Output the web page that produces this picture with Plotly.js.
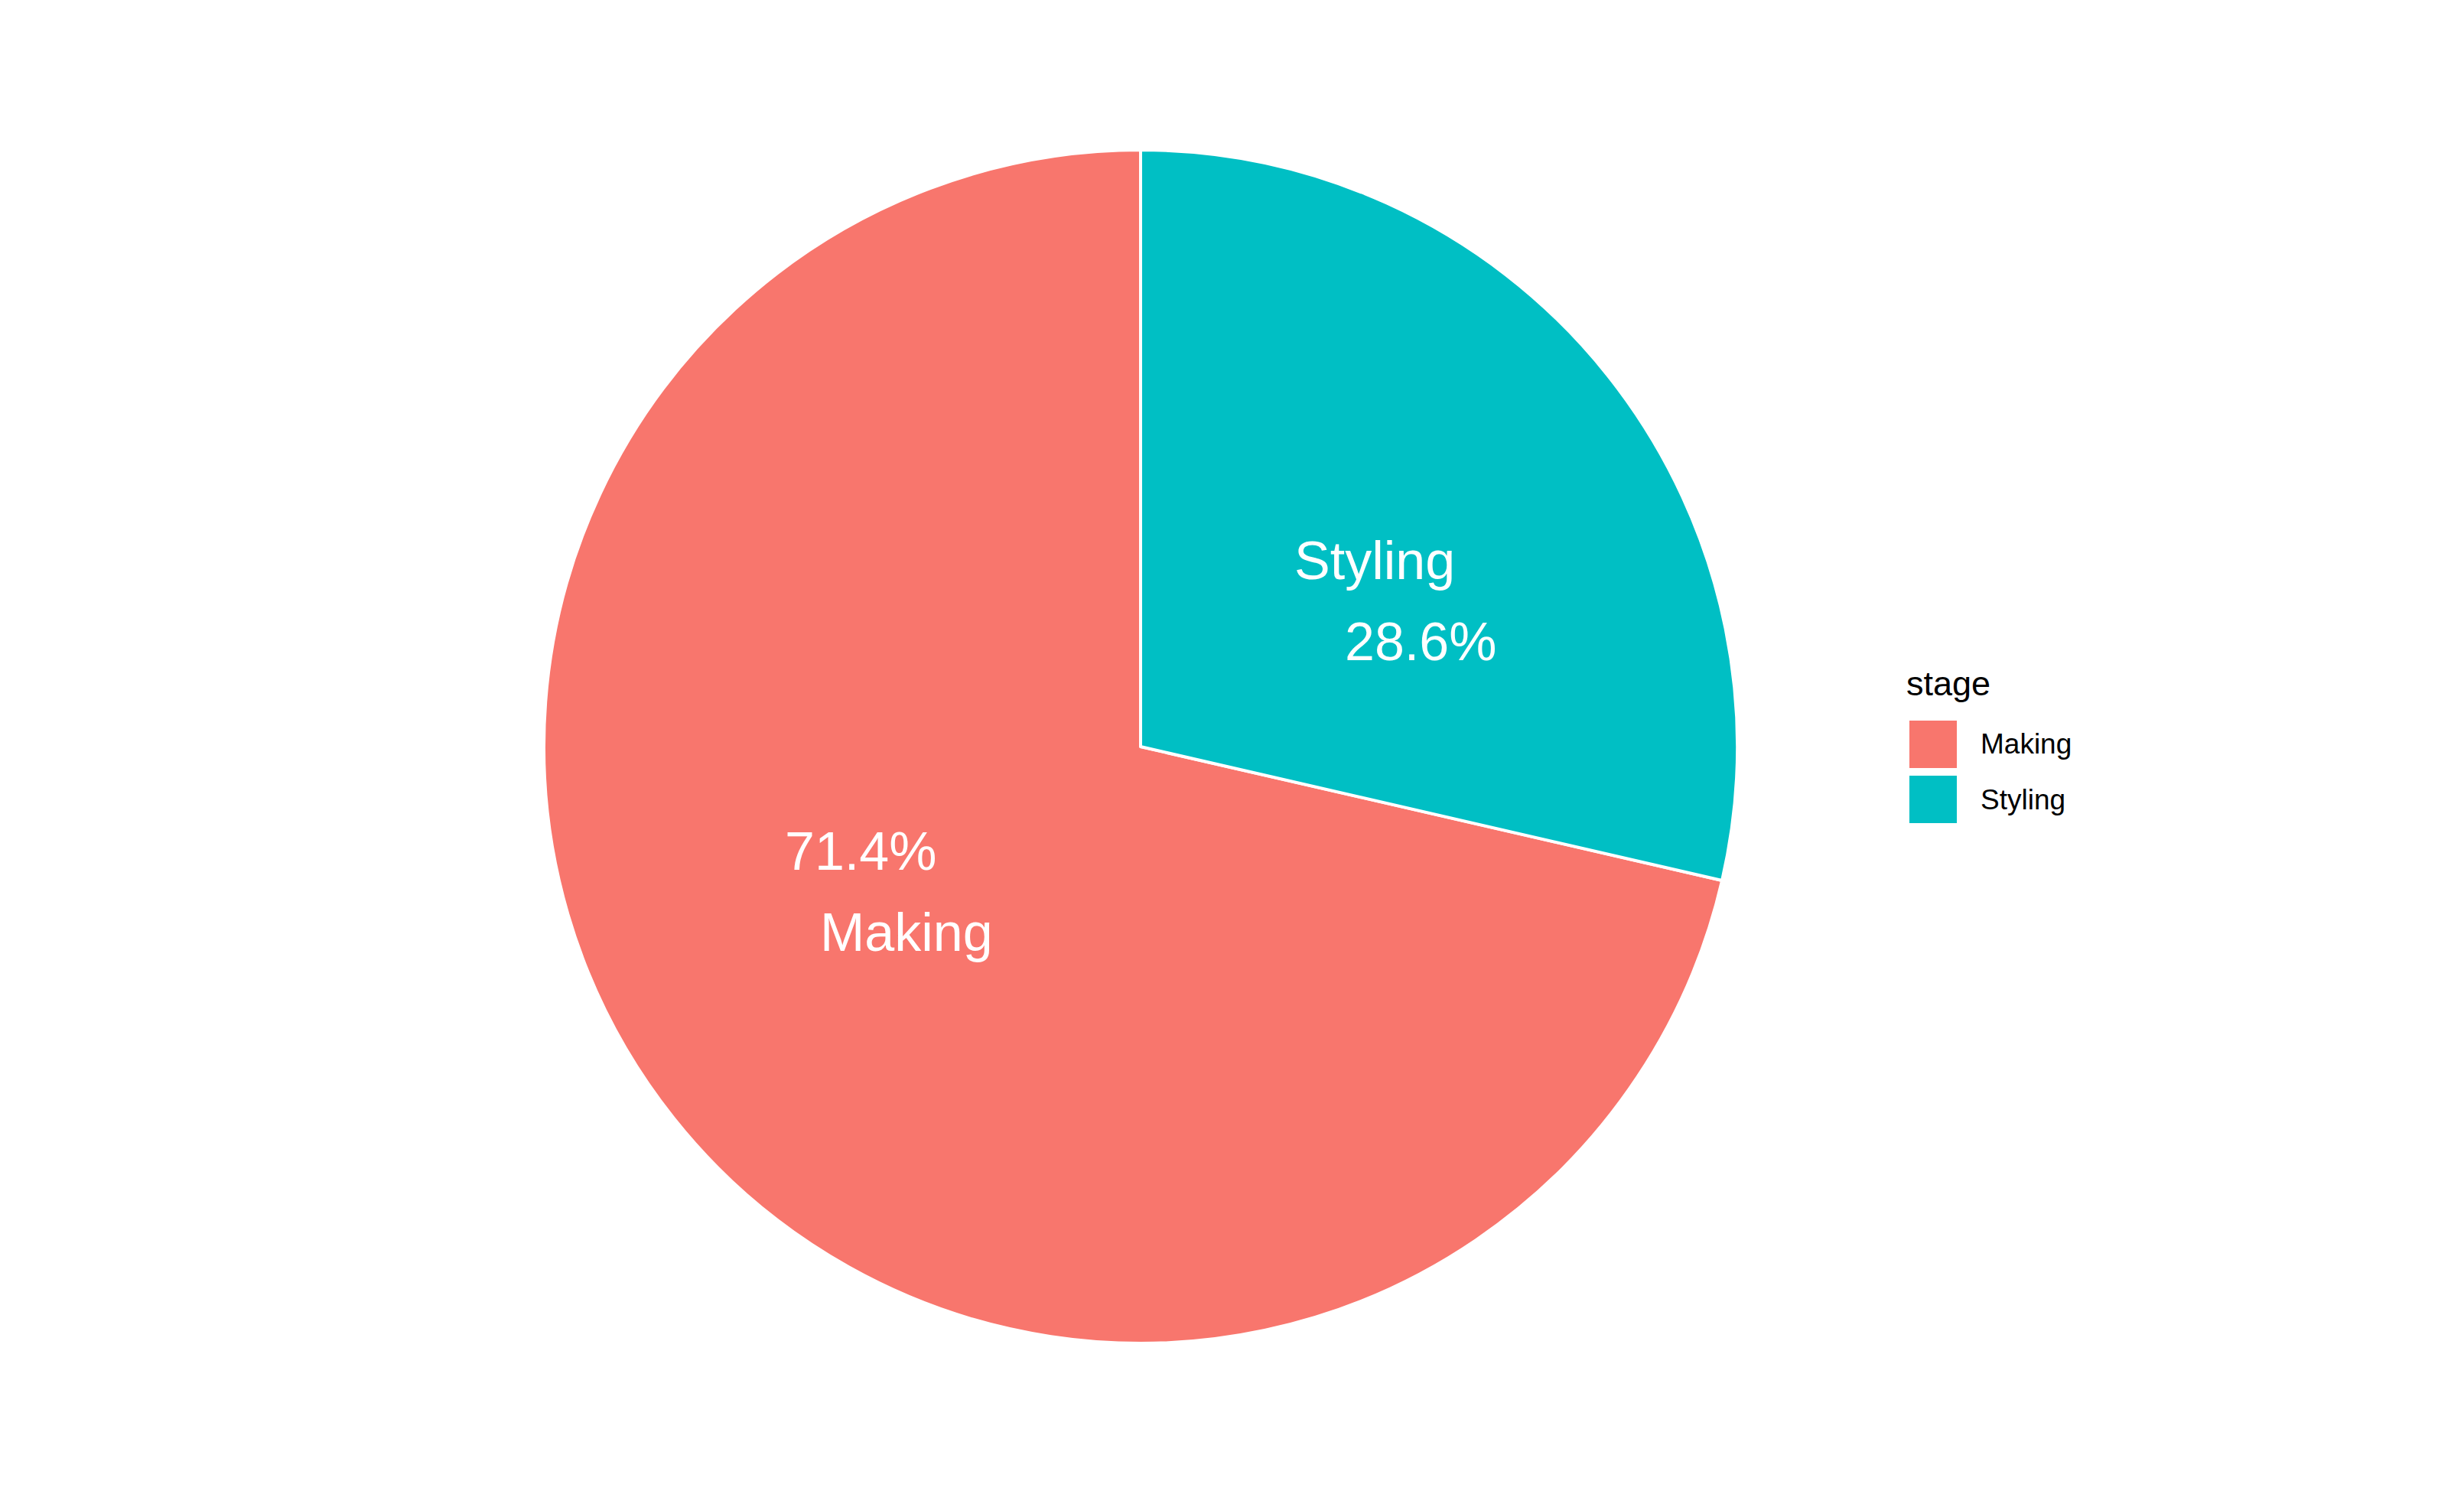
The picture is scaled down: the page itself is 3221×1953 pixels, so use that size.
<!DOCTYPE html>
<html>
<head>
<meta charset="utf-8">
<script src="https://cdn.plot.ly/plotly-3.0.1.min.js"></script>
<style>html,body{margin:0;padding:0;background:#fff;}#chart{width:3221px;height:1953px;}</style>
</head>
<body>
<div id="chart"></div>
<script>
// ---- data ----
const stages = ["Making", "Styling"];
const shares = [71.4, 28.6];
const colors = ["#F8766D", "#00BFC4"];
const legendTitle = "stage";
const labelFirst = [false, true]; // which line is drawn on top for each slice

// ---- layout constants ----
const W = 3221, H = 1953;
const cx = 1491, cy = 976, R = 780;
const font = "Liberation Sans, Arial, sans-serif";

const total = shares.reduce((a, b) => a + b, 0);
const annotations = [];
// slices run (visually) counterclockwise from 12 o'clock; angle measured clockwise from top
let start = 360;
for (let i = 0; i < stages.length; i++) {
  const sweep = shares[i] / total * 360;
  const mid = start - sweep / 2;
  start -= sweep;
  const th = (mid + 9) * Math.PI / 180;
  const px = cx + 0.495 * R * Math.sin(th);
  const py = cy - 0.495 * R * Math.cos(th);
  const pct = (shares[i] / total * 100).toFixed(1) + "%";
  const top = labelFirst[i] ? stages[i] : pct;
  const bottom = labelFirst[i] ? pct : stages[i];
  [[top, -30, 53], [bottom, 30, -53]].forEach(([t, xs, ys]) => {
    annotations.push({
      xref: "paper", yref: "paper", x: px / W, y: 1 - py / H,
      text: t, showarrow: false, xshift: xs, yshift: ys,
      xanchor: "center", yanchor: "middle",
      font: {family: font, size: 70, color: "#FFFFFF"}
    });
  });
}

// legend (drawn as shapes/annotations for large keys)
const shapes = [];
annotations.push({
  xref: "paper", yref: "paper", x: 2490 / W, y: 1 - 893 / H,
  text: legendTitle, showarrow: false, xanchor: "left", yanchor: "middle",
  font: {family: font, size: 45, color: "#000000"}
});
for (let i = 0; i < stages.length; i++) {
  const y0 = 942 + i * 72;
  shapes.push({
    type: "rect", xref: "paper", yref: "paper",
    x0: 2496 / W, x1: 2558 / W, y0: 1 - y0 / H, y1: 1 - (y0 + 62) / H,
    fillcolor: colors[i], line: {width: 0}
  });
  annotations.push({
    xref: "paper", yref: "paper", x: 2587 / W, y: 1 - (y0 + 31) / H,
    text: stages[i], showarrow: false, xanchor: "left", yanchor: "middle",
    font: {family: font, size: 37, color: "#000000"}
  });
}

// first slice should end at 12 o'clock, running clockwise
const rot = 360 - 360 * shares[0] / total;

const trace = {
  type: "pie",
  labels: stages,
  values: shares,
  sort: false,
  direction: "clockwise",
  rotation: rot,
  textinfo: "none",
  hoverinfo: "skip",
  showlegend: false,
  marker: {colors: colors, line: {color: "#FFFFFF", width: 4}},
  domain: {x: [(cx - R) / W, (cx + R) / W], y: [1 - (cy + R) / H, 1 - (cy - R) / H]}
};

Plotly.newPlot("chart", [trace], {
  width: W, height: H,
  margin: {l: 0, r: 0, t: 0, b: 0},
  paper_bgcolor: "#FFFFFF",
  showlegend: false,
  annotations: annotations,
  shapes: shapes
}, {staticPlot: true});
</script>
</body>
</html>
